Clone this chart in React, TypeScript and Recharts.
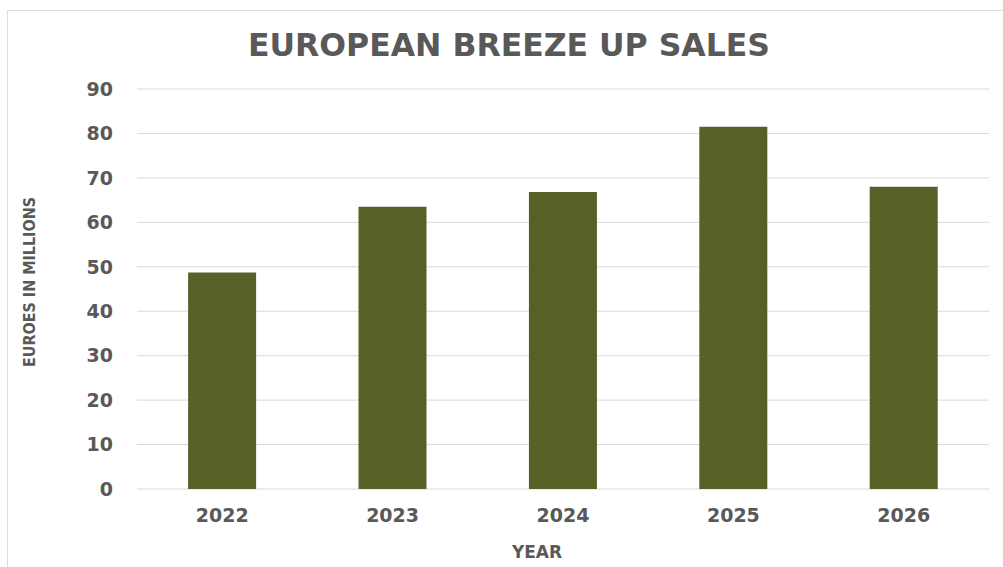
import React from "react";
import { BarChart, Bar, XAxis, YAxis, CartesianGrid } from "recharts";

const years = ["2022", "2023", "2024", "2025", "2026"];
const sales = [48.7, 63.5, 66.8, 81.5, 68.0];
const yTicks = [0, 10, 20, 30, 40, 50, 60, 70, 80, 90];

const data = years.map((year, i) => ({ year, sales: sales[i] }));

const textGray = "#595959";
const font = "'DejaVu Sans', sans-serif";

export default function App() {
  return (
    <div
      style={{
        position: "absolute",
        top: 0,
        left: 0,
        width: 1003,
        height: 567,
        background: "#fff",
        overflow: "hidden",
      }}
    >
      <BarChart
        width={1003}
        height={567}
        data={data}
        margin={{ top: 89, right: 14, left: 0, bottom: 0 }}
        barCategoryGap="30%"
      >
        <CartesianGrid vertical={false} stroke="#d9d9d9" />
        <XAxis
          dataKey="year"
          height={78}
          axisLine={false}
          tickLine={false}
          tickSize={0}
          tickMargin={20}
          tick={{ fill: textGray, fontSize: 19, fontWeight: 700, fontFamily: font }}
        />
        <YAxis
          width={137}
          domain={[0, 90]}
          ticks={yTicks}
          axisLine={false}
          tickLine={false}
          tickSize={0}
          tickMargin={24}
          tick={{ fill: textGray, fontSize: 19, fontWeight: 700, fontFamily: font }}
        />
        <Bar dataKey="sales" fill="#566128" isAnimationActive={false} />
      </BarChart>

      {/* title, axis titles and the frame */}
      <svg
        width={1003}
        height={567}
        style={{ position: "absolute", top: 0, left: 0, pointerEvents: "none" }}
      >
        <rect x={7.5} y={10.5} width={1010} height={600} fill="none" stroke="#dcdcdc" />
        <text
          x={509}
          y={56}
          textAnchor="middle"
          fill={textGray}
          fontFamily={font}
          fontWeight={700}
          fontSize={31.5}
        >
          EUROPEAN BREEZE UP SALES
        </text>
        <text
          x={35}
          y={282}
          transform="rotate(-90 35 282)"
          textAnchor="middle"
          fill={textGray}
          fontFamily="'DejaVu Sans Condensed', 'DejaVu Sans', sans-serif"
          fontWeight={700}
          fontSize={16.5}
          textLength={170}
          lengthAdjust="spacingAndGlyphs"
        >
          EUROES IN MILLIONS
        </text>
        <text
          x={537}
          y={558}
          textAnchor="middle"
          fill={textGray}
          fontFamily={font}
          fontWeight={700}
          fontSize={17}
        >
          YEAR
        </text>
      </svg>
    </div>
  );
}
